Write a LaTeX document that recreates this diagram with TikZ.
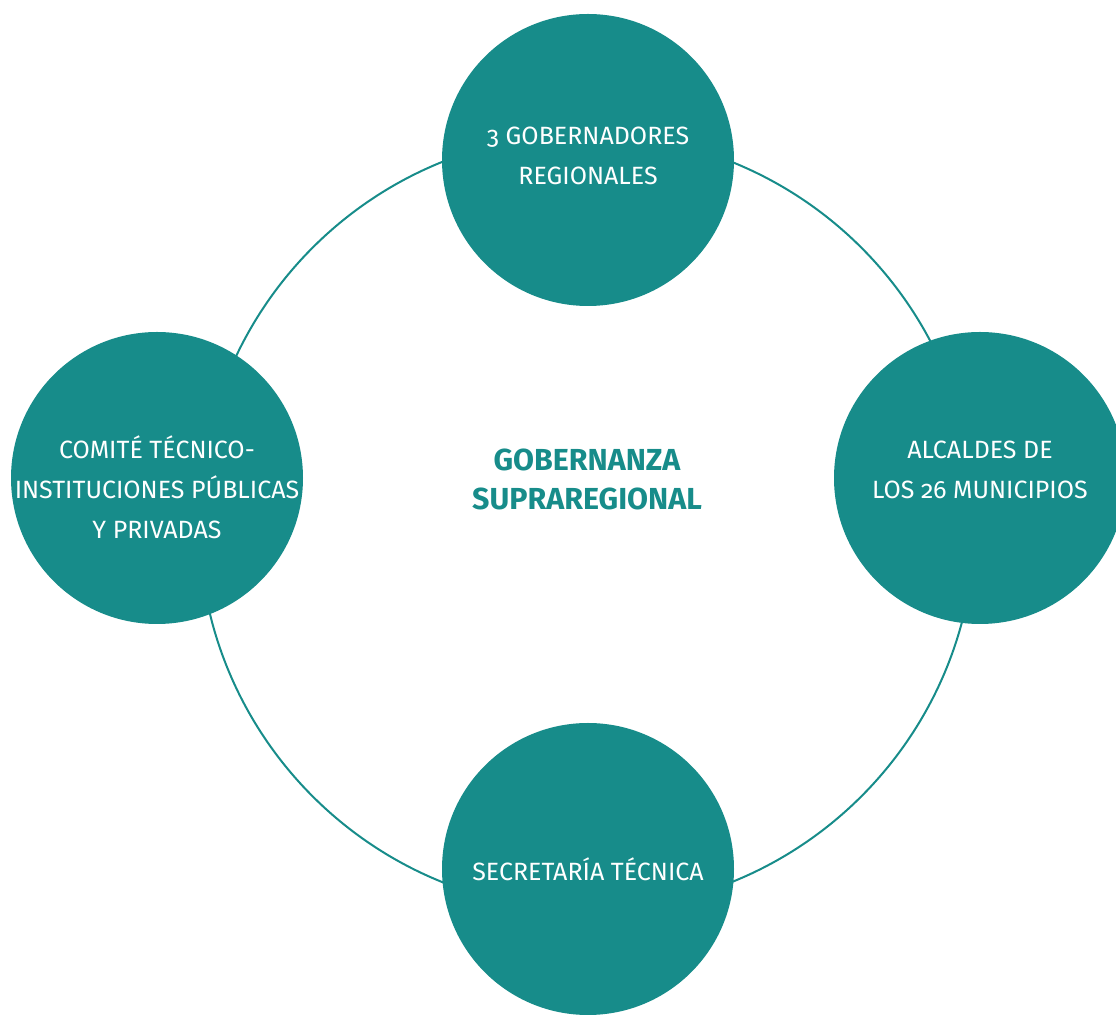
\documentclass[tikz,border=0pt]{standalone}
\usepackage{fontspec}
\setmainfont{Fira Sans}[Numbers=OldStyle]
\usetikzlibrary{positioning}
\definecolor{govTeal}{HTML}{178C8A}

\begin{document}
\begin{tikzpicture}[
    x=0.5pt, y=-0.5pt,
    actor/.style={circle, fill=govTeal, minimum size=146pt, inner sep=0pt},
    actortext/.style={text=white, align=center, font=\fontsize{12.5}{20}\selectfont},
    core/.style={align=center, text=govTeal, font=\fontsize{15.2}{19.5}\selectfont\bfseries},
    ring/.style={draw=govTeal, line width=1pt},
]
    \useasboundingbox (0,0) rectangle (1116,1015);
    \node[core] (gov) at (587,479) {GOBERNANZA\\SUPRAREGIONAL};
    \draw[ring] (587,522) circle[radius=194pt];
    % the four circles
    \node[actor] (gob) at (588,160) {};
    \node[actor] (alc) at (980,478) {};
    \node[actor] (sec) at (588,869) {};
    \node[actor] (com) at (157,478) {};
    % their texts
    \node[actortext] (gobtext) at ([yshift=2pt]gob.center) {3 GOBERNADORES\\REGIONALES};
    \node[actortext] (alctext) at ([yshift=4pt]alc.center) {ALCALDES DE\\LOS 26 MUNICIPIOS};
    \node[actortext] (sectext) at (sec.center) {SECRETARÍA TÉCNICA};
    \node[actortext] (comtext) at ([yshift=-4.5pt]com.center) {COMITÉ TÉCNICO-\\INSTITUCIONES PÚBLICAS\\Y PRIVADAS};
\end{tikzpicture}
\end{document}
